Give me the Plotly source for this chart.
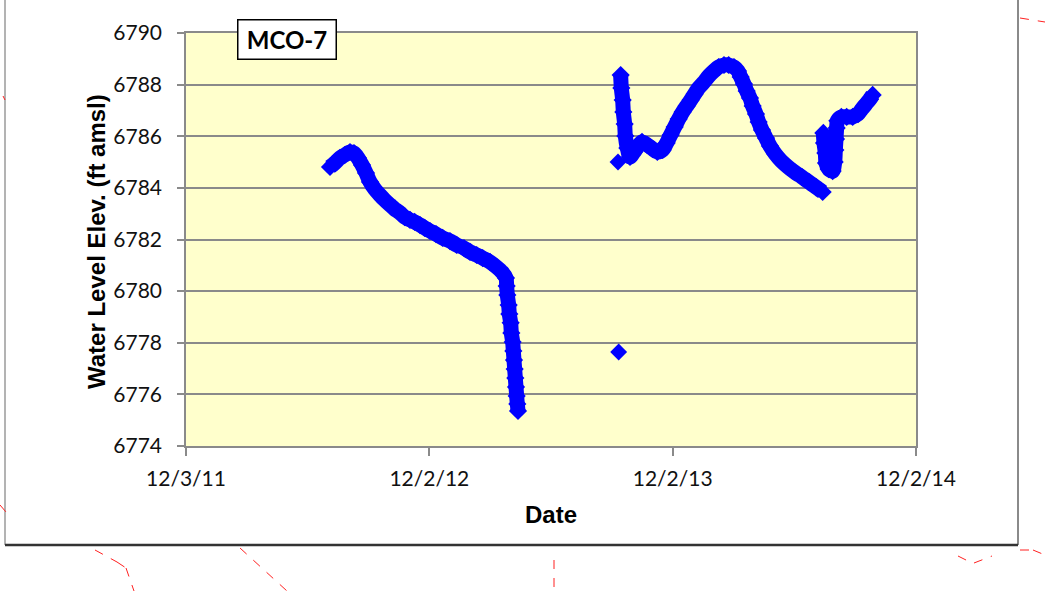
import plotly.graph_objects as go

# ---- data ----
seg1_dates = ["2012-07-06", "2012-07-13", "2012-07-21", "2012-07-28", "2012-08-05", "2012-08-11",
              "2012-08-17", "2012-08-23", "2012-08-29", "2012-09-04", "2012-09-11", "2012-09-19",
              "2012-09-26", "2012-10-04", "2012-10-11", "2012-10-19", "2012-10-26", "2012-11-03",
              "2012-11-10", "2012-11-18", "2012-11-25", "2012-12-03", "2012-12-12", "2012-12-22",
              "2013-01-02", "2013-01-12", "2013-01-23", "2013-02-01", "2013-02-11", "2013-02-20",
              "2013-03-03", "2013-03-13", "2013-03-21", "2013-03-27", "2013-03-28", "2013-03-29",
              "2013-03-31", "2013-04-01", "2013-04-03", "2013-04-04", "2013-04-06", "2013-04-07",
              "2013-04-08", "2013-04-09", "2013-04-10", "2013-04-11", "2013-04-12", "2013-04-13",
              "2013-04-14"]
seg1_elev = [6784.81, 6784.96, 6785.16, 6785.27, 6785.39, 6785.35,
             6785.16, 6784.89, 6784.58, 6784.23, 6783.96, 6783.72,
             6783.53, 6783.34, 6783.18, 6783.03, 6782.87, 6782.76,
             6782.68, 6782.56, 6782.45, 6782.33, 6782.21, 6782.06,
             6781.94, 6781.79, 6781.67, 6781.52, 6781.40, 6781.28,
             6781.13, 6780.93, 6780.74, 6780.51, 6780.20, 6779.85,
             6779.46, 6779.11, 6778.77, 6778.38, 6778.03, 6777.68,
             6777.33, 6776.98, 6776.63, 6776.29, 6775.94, 6775.63,
             6775.36]

single_dates = ["2013-09-12", "2013-09-11"]
single_elev = [6777.64, 6785.00]

seg2_dates = ["2013-09-15", "2013-09-16", "2013-09-18", "2013-09-19", "2013-09-21",
              "2013-09-22", "2013-09-25", "2013-09-29", "2013-10-05", "2013-10-11", "2013-10-17",
              "2013-10-25", "2013-11-02", "2013-11-09", "2013-11-17", "2013-11-23", "2013-11-29",
              "2013-12-05", "2013-12-11", "2013-12-17", "2013-12-23", "2013-12-29", "2014-01-04",
              "2014-01-10", "2014-01-18", "2014-01-25", "2014-02-02", "2014-02-09", "2014-02-17",
              "2014-02-24", "2014-03-04", "2014-03-10", "2014-03-14", "2014-03-19", "2014-03-23",
              "2014-03-28", "2014-04-01", "2014-04-06", "2014-04-10", "2014-04-15", "2014-04-21",
              "2014-04-27", "2014-05-05", "2014-05-14", "2014-05-24", "2014-06-03", "2014-06-14",
              "2014-06-24", "2014-07-05", "2014-07-15"]
seg2_elev = [6788.37, 6787.87, 6787.40, 6786.94, 6786.47,
             6786.01, 6785.54, 6785.20, 6785.39, 6785.62, 6785.78,
             6785.66, 6785.51, 6785.39, 6785.47, 6785.74, 6786.05,
             6786.36, 6786.67, 6786.94, 6787.17, 6787.40, 6787.64,
             6787.87, 6788.10, 6788.33, 6788.53, 6788.68, 6788.76,
             6788.76, 6788.68, 6788.53, 6788.30, 6788.02, 6787.75,
             6787.48, 6787.17, 6786.86, 6786.55, 6786.24, 6785.93,
             6785.62, 6785.31, 6785.04, 6784.81, 6784.61, 6784.42,
             6784.23, 6784.03, 6783.84]

seg3_dates = ["2014-07-16", "2014-07-17", "2014-07-19", "2014-07-20", "2014-07-24", "2014-07-30",
              "2014-08-02", "2014-08-03", "2014-08-04", "2014-08-05", "2014-08-06", "2014-08-12",
              "2014-08-20", "2014-08-29", "2014-09-06", "2014-09-12", "2014-09-18", "2014-09-24",
              "2014-09-28"]
seg3_elev = [6786.13, 6785.74, 6785.35, 6784.96, 6784.73, 6784.65,
             6785.00, 6785.47, 6785.89, 6786.32, 6786.60, 6786.75,
             6786.75, 6786.75, 6786.86, 6787.06, 6787.25, 6787.44,
             6787.60]

x_tick_vals = ["2011-12-03", "2012-12-02", "2013-12-02", "2014-12-02"]
x_tick_text = ["12/3/11", "12/2/12", "12/2/13", "12/2/14"]
y_ticks = [6774, 6776, 6778, 6780, 6782, 6784, 6786, 6788, 6790]

blue = "#0000FF"
fig = go.Figure()
for xs, ys in [(seg1_dates, seg1_elev), (seg2_dates, seg2_elev), (seg3_dates, seg3_elev)]:
    fig.add_trace(go.Scatter(
        x=xs, y=ys, mode="lines+markers",
        line=dict(color=blue, width=15, shape="spline", smoothing=0.8),
        marker=dict(symbol="diamond", size=14, color=blue, line=dict(width=0)),
        showlegend=False, cliponaxis=False,
    ))
fig.add_trace(go.Scatter(
    x=single_dates, y=single_elev, mode="markers",
    marker=dict(symbol="diamond", size=13, color=blue, line=dict(width=0)),
    showlegend=False, cliponaxis=False,
))

# plot-area pixel geometry
L, R, T, B = 186, 916, 33, 446
W, H = 1045, 591
pw, ph = R - L, B - T


def px(x):
    return (x - L) / pw


def py(y):
    return (B - y) / ph


grid = "#8a8a8a"
txt = "#111111"
fig.update_layout(
    width=W, height=H,
    margin=dict(l=L, r=W - R, t=T, b=H - B, pad=0),
    paper_bgcolor="white", plot_bgcolor="#FFFFCC",
    font=dict(family="Lato", size=21, color=txt),
    xaxis=dict(
        type="date", range=["2011-12-03", "2014-12-02"],
        tickmode="array", tickvals=x_tick_vals, ticktext=x_tick_text,
        showgrid=False, zeroline=False,
        showline=True, linecolor=grid, linewidth=1.5, mirror=True,
        ticks="outside", ticklen=8, tickcolor=grid, tickwidth=1.5,
        ticklabelstandoff=5,
        tickfont=dict(family="Lato", size=21, color=txt),
    ),
    yaxis=dict(
        range=[6774, 6790], tickmode="array", tickvals=y_ticks,
        showgrid=True, gridcolor=grid, gridwidth=1.5, zeroline=False,
        showline=True, linecolor=grid, linewidth=1.5, mirror=True,
        ticks="outside", ticklen=7, tickcolor=grid, tickwidth=1.5,
        ticklabelstandoff=11,
        tickfont=dict(family="Lato", size=21, color=txt),
    ),
)

annotations = [
    dict(text="<b>Water Level Elev. (ft amsl)</b>", xref="paper", yref="paper",
         x=px(97), y=py(242), xanchor="center", yanchor="middle", textangle=-90,
         showarrow=False, font=dict(family="Liberation Sans", size=24, color="black")),
    dict(text="<b>Date</b>", xref="paper", yref="paper",
         x=px(551), y=py(514), xanchor="center", yanchor="middle",
         showarrow=False, font=dict(family="Liberation Sans", size=24, color="black")),
    dict(text="<b>MCO-7</b>", xref="paper", yref="paper",
         x=px(286.5), y=py(39), xanchor="center", yanchor="middle",
         showarrow=False, font=dict(family="Lato", size=24, color="black"),
         bgcolor="white", bordercolor="black", borderwidth=1.5, borderpad=3,
         width=91, height=32),
]
fig.update_layout(annotations=annotations)

shapes = [
    # outer frame lines
    dict(type="line", xref="paper", yref="paper", x0=px(5), x1=px(5), y0=py(0), y1=py(545),
         line=dict(color="#9a9a9a", width=1.5)),
    dict(type="line", xref="paper", yref="paper", x0=px(1018), x1=px(1018), y0=py(0), y1=py(545),
         line=dict(color="#8a8a8a", width=2)),
    dict(type="line", xref="paper", yref="paper", x0=px(5), x1=px(1018), y0=py(545), y1=py(545),
         line=dict(color="#333333", width=2.5)),
]
red_segments = [
    ((1020, 18), (1045, 22)),
    ((3, 96), (5, 100)),
    ((0, 505), (6, 512)),
    ((95, 550), (117, 562)),
    ((117, 562), (126, 568)),
    ((126, 568), (134, 591)),
    ((240, 548), (287, 591)),
    ((554, 560), (554, 591)),
    ((958, 556), (972, 563)),
    ((974, 563), (992, 556)),
    ((1020, 550), (1030, 550)),
    ((1033, 550), (1045, 555)),
]
for (x0, y0), (x1, y1) in red_segments:
    shapes.append(dict(type="line", xref="paper", yref="paper",
                       x0=px(x0), x1=px(x1), y0=py(y0), y1=py(y1),
                       line=dict(color="#ff2020", width=1, dash="dash")))
fig.update_layout(shapes=shapes)

fig.write_html("out.html", config={"displayModeBar": False},
               post_script="document.body.style.margin='0px';")
